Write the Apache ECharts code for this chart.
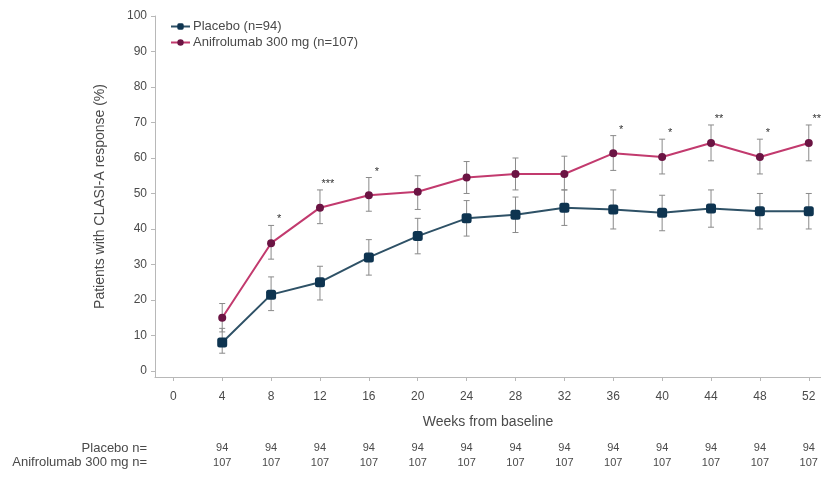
<!DOCTYPE html>
<html>
<head>
<meta charset="utf-8">
<script src="https://cdn.jsdelivr.net/npm/echarts@6/dist/echarts.min.js"></script>
<style>
  html, body { margin: 0; padding: 0; background: #ffffff; }
  #chart { width: 821px; height: 481px; }
</style>
</head>
<body>
<div id="chart"></div>
<script>
// Study visit weeks
const weeks = [4, 8, 12, 16, 20, 24, 28, 32, 36, 40, 44, 48, 52];
const weekTicks = [0, 4, 8, 12, 16, 20, 24, 28, 32, 36, 40, 44, 48, 52];
const yTicks = [0, 10, 20, 30, 40, 50, 60, 70, 80, 90, 100];

// CLASI-A response rate (%) with 95% CI
const placeboPct = [8, 21.5, 25, 32, 38, 43, 44, 46, 45.5, 44.6, 45.8, 45, 45];
const placeboLow = [5, 17, 20, 27, 33, 38, 39, 41, 40, 39.5, 40.5, 40, 40];
const placeboHigh = [12, 26.5, 29.5, 37, 43, 48, 49, 51, 51, 49.5, 51, 50, 50];

const aniPct = [15, 36, 46, 49.5, 50.5, 54.5, 55.5, 55.5, 61.3, 60.3, 64.2, 60.3, 64.2];
const aniLow = [11, 31.5, 41.5, 45, 45.5, 50, 51, 51, 56.5, 55.5, 59.2, 55.5, 59.2];
const aniHigh = [19, 41, 51, 54.5, 55, 59, 60, 60.5, 66.3, 65.3, 69.3, 65.3, 69.3];

// Significance markers vs placebo
const aniSig = ['', '*', '***', '*', '', '', '', '', '*', '*', '**', '*', '**'];

// Patients at risk
const placeboN = [94, 94, 94, 94, 94, 94, 94, 94, 94, 94, 94, 94, 94];
const aniN = [107, 107, 107, 107, 107, 107, 107, 107, 107, 107, 107, 107, 107];

const FONT = 'Liberation Sans';
const TEXT = '#4a4a4a';
const AXIS = '#b8b8b8';

const placeboLine = '#2e5166';
const placeboMark = '#0e3450';
const aniLine = '#c23a6e';
const aniMark = '#6b1443';

function pairs(xs, ys) { return xs.map((x, i) => [x, ys[i]]); }

function errData(low, high, sig) {
  return weeks.map((w, i) => [w, low[i], high[i], sig ? sig[i] : '']);
}

function errRender(params, api) {
  const x = api.value(0);
  const lo = api.coord([x, api.value(1)]);
  const hi = api.coord([x, api.value(2)]);
  const cap = 3;
  const style = { stroke: '#8a8a8a', lineWidth: 1, fill: null };
  const children = [
    { type: 'line', shape: { x1: lo[0], y1: lo[1], x2: hi[0], y2: hi[1] }, style },
    { type: 'line', shape: { x1: lo[0] - cap, y1: lo[1], x2: lo[0] + cap, y2: lo[1] }, style },
    { type: 'line', shape: { x1: hi[0] - cap, y1: hi[1], x2: hi[0] + cap, y2: hi[1] }, style }
  ];
  const s = api.value(3);
  if (s) {
    children.push({
      type: 'text',
      style: {
        x: hi[0] + 8, y: hi[1] - 6, text: s,
        fill: '#333', font: '11px ' + FONT,
        align: 'center', verticalAlign: 'middle'
      }
    });
  }
  return { type: 'group', children };
}

function countAxis(counts, offset) {
  return {
    type: 'value', gridIndex: 0, position: 'bottom', offset: offset,
    min: -1.5, max: 53,
    axisLine: { show: false, onZero: false }, axisTick: { show: false }, splitLine: { show: false },
    axisLabel: {
      customValues: weeks, margin: 0,
      color: TEXT, fontFamily: FONT, fontSize: 11,
      formatter: v => { const i = weeks.indexOf(v); return i >= 0 ? String(counts[i]) : ''; }
    }
  };
}

const chart = echarts.init(document.getElementById('chart'), null, { renderer: 'canvas' });

chart.setOption({
  animation: false,
  backgroundColor: '#ffffff',
  textStyle: { fontFamily: FONT },
  grid: { left: 155, right: 0, top: 16, bottom: 104, containLabel: false },
  legend: {
    orient: 'vertical', left: 165, top: 15, itemGap: 3,
    itemWidth: 19, itemHeight: 8,
    textStyle: { color: TEXT, fontSize: 13, fontFamily: FONT, padding: [0, 0, 0, -2] },
    data: ['Placebo (n=94)', 'Anifrolumab 300 mg (n=107)']
  },
  xAxis: [
    {
      type: 'value', min: -1.5, max: 53,
      name: 'Weeks from baseline', nameLocation: 'middle', nameGap: 38,
      nameTextStyle: { color: TEXT, fontSize: 14, fontFamily: FONT },
      axisLine: { show: true, onZero: false, lineStyle: { color: AXIS, width: 1 } },
      axisTick: { show: true, customValues: weekTicks, length: 4, lineStyle: { color: AXIS } },
      axisLabel: { customValues: weekTicks, color: TEXT, fontSize: 12, fontFamily: FONT, margin: 14 },
      splitLine: { show: false }
    },
    countAxis(placeboN, 65),
    countAxis(aniN, 80)
  ],
  yAxis: {
    type: 'value', min: -1.7, max: 100,
    name: 'Patients with CLASI-A response (%)', nameLocation: 'middle', nameGap: 48,
    nameTextStyle: { color: TEXT, fontSize: 14, fontFamily: FONT },
    axisLine: { show: true, onZero: false, lineStyle: { color: AXIS, width: 1 } },
    axisTick: { show: true, customValues: yTicks, length: 4, lineStyle: { color: AXIS } },
    axisLabel: { customValues: yTicks, color: TEXT, fontSize: 12, fontFamily: FONT, margin: 8 },
    splitLine: { show: false }
  },
  graphic: [
    { type: 'text', right: 821 - 147, top: 442,
      style: { text: 'Placebo n=', fill: TEXT, font: '13px ' + FONT, align: 'right' } },
    { type: 'text', right: 821 - 147, top: 456,
      style: { text: 'Anifrolumab 300 mg n=', fill: TEXT, font: '13px ' + FONT, align: 'right' } }
  ],
  series: [
    {
      name: 'placeboCI', type: 'custom', renderItem: errRender,
      data: errData(placeboLow, placeboHigh), z: 1, silent: true,
      encode: { x: 0, y: [1, 2] }
    },
    {
      name: 'aniCI', type: 'custom', renderItem: errRender,
      data: errData(aniLow, aniHigh, aniSig), z: 1, silent: true,
      encode: { x: 0, y: [1, 2] }
    },
    {
      name: 'Placebo (n=94)', type: 'line', data: pairs(weeks, placeboPct), z: 3,
      symbol: 'roundRect', symbolSize: 10,
      lineStyle: { color: placeboLine, width: 2 },
      itemStyle: { color: placeboMark, borderWidth: 0 }
    },
    {
      name: 'Anifrolumab 300 mg (n=107)', type: 'line', data: pairs(weeks, aniPct), z: 3,
      symbol: 'circle', symbolSize: 8,
      lineStyle: { color: aniLine, width: 2 },
      itemStyle: { color: aniMark, borderWidth: 0 }
    }
  ]
});
</script>
</body>
</html>
